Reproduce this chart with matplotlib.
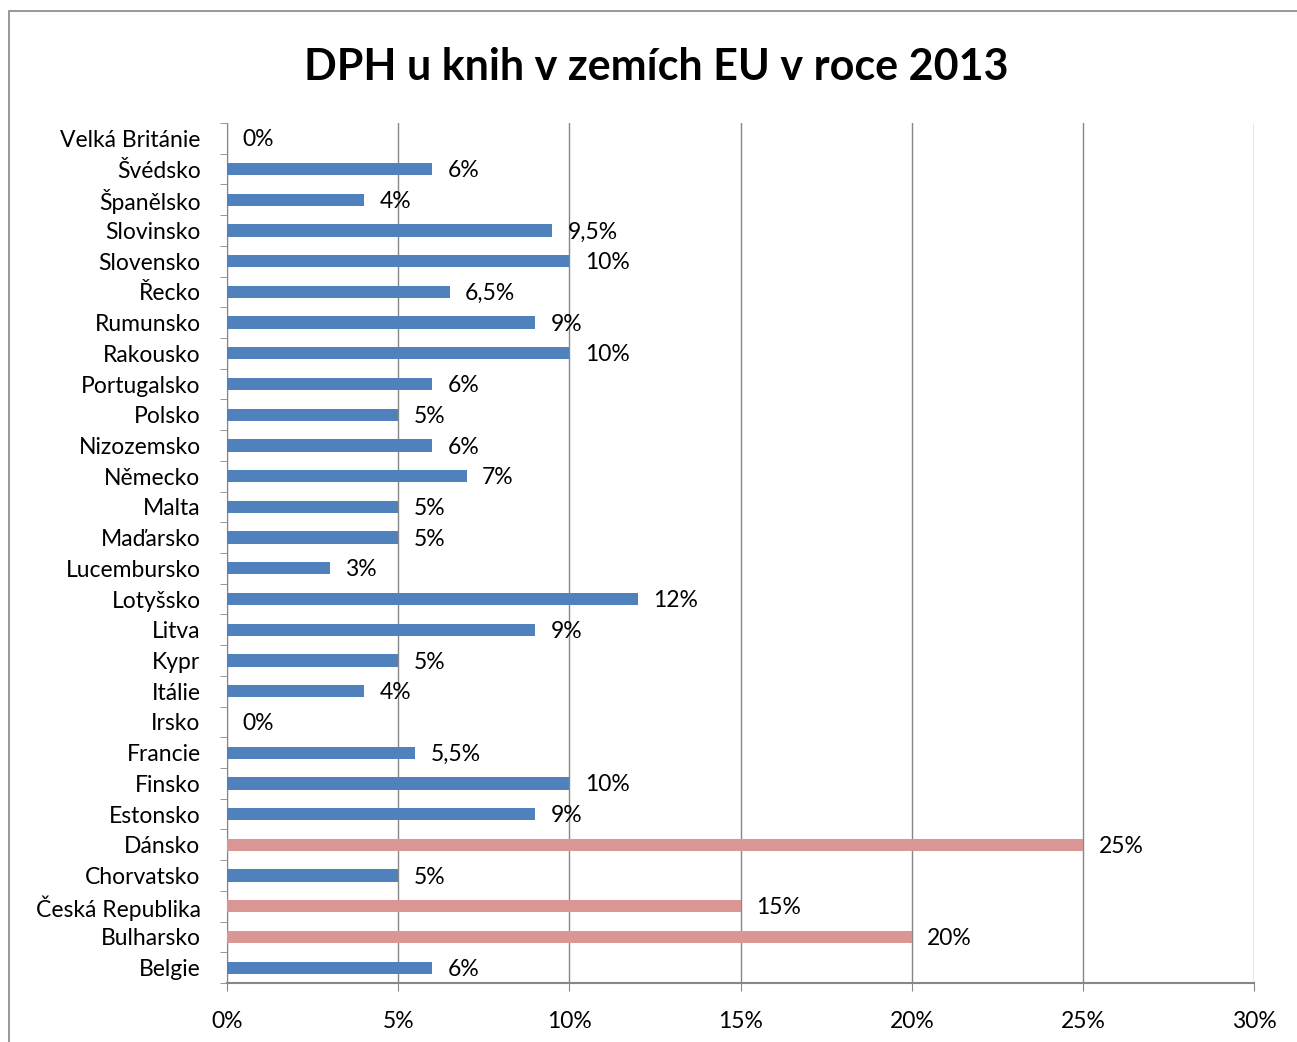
import matplotlib
matplotlib.use('Agg')
import matplotlib.pyplot as plt
from matplotlib.patches import Rectangle

plt.rcParams['font.family'] = ['Lato', 'DejaVu Sans']

countries = ['Belgie', 'Bulharsko', 'Česká Republika', 'Chorvatsko', 'Dánsko',
             'Estonsko', 'Finsko', 'Francie', 'Irsko', 'Itálie', 'Kypr', 'Litva',
             'Lotyšsko', 'Lucembursko', 'Maďarsko', 'Malta', 'Německo', 'Nizozemsko',
             'Polsko', 'Portugalsko', 'Rakousko', 'Rumunsko', 'Řecko', 'Slovensko',
             'Slovinsko', 'Španělsko', 'Švédsko', 'Velká Británie']
vat = [6, 20, 15, 5, 25, 9, 10, 5.5, 0, 4, 5, 9, 12, 3, 5, 5, 7, 6, 5, 6,
       10, 9, 6.5, 10, 9.5, 4, 6, 0]
highlight = ['Bulharsko', 'Česká Republika', 'Dánsko']

blue = '#4F81BD'
pink = '#D99694'
colors = [pink if c in highlight else blue for c in countries]

fig = plt.figure(figsize=(12.97, 10.42), dpi=100)
ax = fig.add_axes([0.175, 0.0566, 0.792, 0.8254])

y = list(range(len(countries)))
ax.barh(y, vat, height=0.4, color=colors, zorder=3)

for yi, v in zip(y, vat):
    txt = ('%g' % v).replace('.', ',') + '%'
    ax.text(v + 0.45, yi - 0.05, txt, va='center', ha='left', fontsize=16.5, zorder=4)

ax.set_xlim(0, 30)
ax.set_ylim(-0.5, len(countries) - 0.5)
ax.set_xticks(range(0, 31, 5))
ax.set_xticklabels(['%d%%' % t for t in range(0, 31, 5)], fontsize=16.5)
ax.set_yticks(y)
ax.set_yticklabels(countries, fontsize=16.5)
ax.set_yticks([i - 0.5 for i in range(len(countries) + 1)], minor=True)
ax.tick_params(axis='y', which='major', length=0, pad=19)
ax.tick_params(axis='y', which='minor', length=5, color='#868686', direction='out')
ax.tick_params(axis='x', length=6, color='#868686', pad=14)

ax.grid(axis='x', color='#868686', linewidth=1, zorder=0)
for s in ['top', 'right']:
    ax.spines[s].set_visible(False)
ax.spines['left'].set_color('#868686')
ax.spines['bottom'].set_color('#868686')
ax.spines['bottom'].set_linewidth(1.5)

fig.suptitle('DPH u knih v zemích EU v roce 2013', fontsize=31, fontweight='bold',
             x=0.506, y=0.955)

fig.patches.append(Rectangle((9 / 1297, -0.01), 1.1, 1 - 11 / 1042 + 0.01,
                             transform=fig.transFigure, fill=False,
                             edgecolor='#868686', linewidth=1.2))

fig.savefig('out.png', dpi=100)
